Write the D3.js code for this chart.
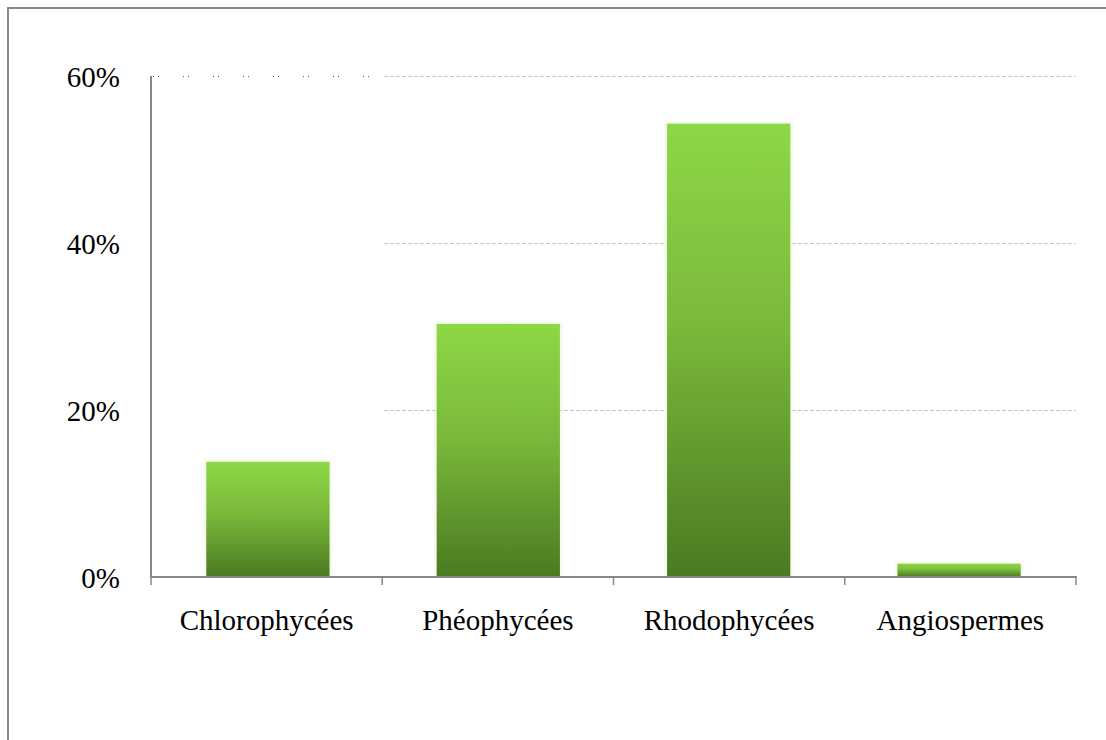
<!DOCTYPE html>
<html><head><meta charset="utf-8">
<script src="https://cdn.jsdelivr.net/npm/d3@7"></script>
<style>
html,body{margin:0;padding:0;background:#fff;}
svg{display:block;}
text{font-family:"Liberation Serif","Times New Roman",serif;}
</style></head>
<body>
<svg id="chart" width="1106" height="740"></svg>
<script>
const categories = ["Chlorophycées", "Phéophycées", "Rhodophycées", "Angiospermes"];
const values = [13.8, 30.3, 54.3, 1.6];
const yTicks = [0, 20, 40, 60];

(function () {
const svg = d3.select("#chart");
const pLeft = 151, pRight = 1076, pTop = 76, pBottom = 577;

// frame
svg.append("line").attr("x1", 8).attr("x2", 1106).attr("y1", 8).attr("y2", 8)
  .attr("stroke", "#8a8a8a").attr("stroke-width", 2);
svg.append("line").attr("x1", 8).attr("x2", 8).attr("y1", 7).attr("y2", 740)
  .attr("stroke", "#8a8a8a").attr("stroke-width", 2);

const y = d3.scaleLinear().domain([0, 60]).range([pBottom, pTop]);
const x = d3.scaleBand().domain(categories).range([pLeft, pRight])
  .paddingInner(0.465).paddingOuter(0.24);
const xt = d3.scaleLinear().domain([0, categories.length]).range([pLeft, pRight]);

// gridlines
const grid = svg.append("g");
grid.selectAll("line.g").data(yTicks.filter(d => d > 0)).join("line")
  .attr("class", "g")
  .attr("x1", 384).attr("x2", pRight)
  .attr("y1", d => Math.round(y(d)) + 0.5).attr("y2", d => Math.round(y(d)) + 0.5)
  .attr("stroke", "#c4c4c4").attr("stroke-width", 1)
  .attr("stroke-dasharray", "4,2");
// dotted segment on top gridline
grid.append("line")
  .attr("x1", pLeft + 2).attr("x2", 384)
  .attr("y1", Math.round(y(60)) + 0.5).attr("y2", Math.round(y(60)) + 0.5)
  .attr("stroke", "#555").attr("stroke-width", 1.2)
  .attr("shape-rendering", "crispEdges")
  .attr("stroke-dasharray", "1,4,1,24");

// gradient
const defs = svg.append("defs");
const grad = defs.append("linearGradient").attr("id", "barGrad")
  .attr("x1", 0).attr("y1", 0).attr("x2", 0).attr("y2", 1);
grad.append("stop").attr("offset", "0%").attr("stop-color", "#8dd845");
grad.append("stop").attr("offset", "45%").attr("stop-color", "#7ab93b");
grad.append("stop").attr("offset", "100%").attr("stop-color", "#4b7a21");
const glow = defs.append("filter").attr("id", "glow")
  .attr("x", "-10%").attr("y", "-10%").attr("width", "120%").attr("height", "120%");
glow.append("feGaussianBlur").attr("stdDeviation", 1.5);

// bars: halo then bar
svg.append("g").selectAll("rect").data(values).join("rect")
  .attr("x", (d, i) => x(categories[i]) - 2)
  .attr("y", d => y(d) - 2)
  .attr("width", x.bandwidth() + 4)
  .attr("height", d => pBottom - y(d) + 2)
  .attr("fill", "#e2f3cf").attr("opacity", 0.5)
  .attr("filter", "url(#glow)");
svg.append("g").selectAll("rect").data(values).join("rect")
  .attr("x", (d, i) => x(categories[i]))
  .attr("y", d => y(d))
  .attr("width", x.bandwidth())
  .attr("height", d => pBottom - y(d))
  .attr("fill", "url(#barGrad)");

// y axis line
svg.append("line").attr("x1", pLeft).attr("x2", pLeft).attr("y1", pTop).attr("y2", pBottom)
  .attr("stroke", "#888").attr("stroke-width", 2);
// x axis line
svg.append("line").attr("x1", pLeft - 1).attr("x2", pRight + 1).attr("y1", pBottom).attr("y2", pBottom)
  .attr("stroke", "#888").attr("stroke-width", 2);
// x ticks
svg.append("g").selectAll("line").data(d3.range(categories.length + 1)).join("line")
  .attr("x1", d => xt(d)).attr("x2", d => xt(d))
  .attr("y1", pBottom).attr("y2", pBottom + 8)
  .attr("stroke", "#888").attr("stroke-width", 1.5);

// y labels
svg.append("g").selectAll("text").data(yTicks).join("text")
  .attr("x", 120).attr("y", d => y(d) + 11)
  .attr("text-anchor", "end")
  .attr("font-size", 29).attr("fill", "#000")
  .text(d => d + "%");

// x labels
svg.append("g").selectAll("text").data(categories).join("text")
  .attr("x", (d, i) => (xt(i) + xt(i + 1)) / 2)
  .attr("y", 630)
  .attr("text-anchor", "middle")
  .attr("font-size", 29).attr("fill", "#000")
  .text(d => d);
})();
</script>
</body></html>
